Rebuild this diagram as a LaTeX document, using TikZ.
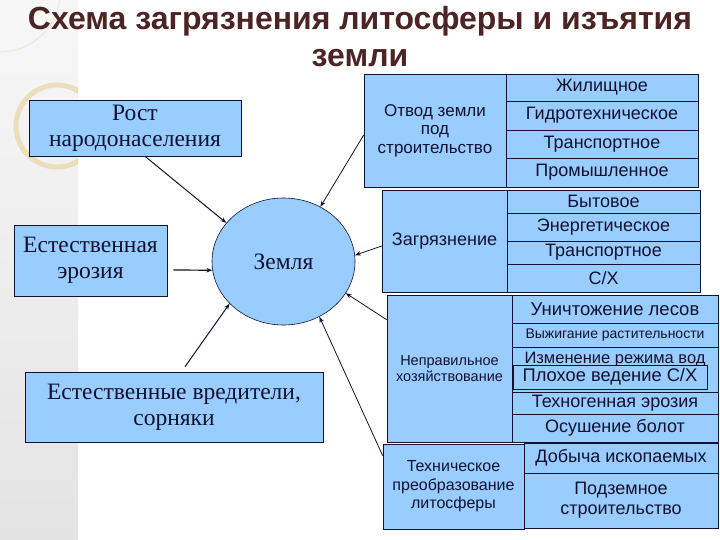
\documentclass[tikz,border=0pt]{standalone}
\usepackage{fontspec}
\setmainfont{Liberation Serif}
\newfontfamily\sansru{Liberation Sans}
\usetikzlibrary{shapes.geometric, arrows.meta}
\definecolor{boxblue}{RGB}{153,204,255}
\definecolor{titlebrown}{RGB}{77,36,36}
\definecolor{inkblue}{RGB}{18,18,48}
\definecolor{ringbeige}{RGB}{236,222,186}

\begin{document}
\begin{tikzpicture}[x=1pt, y=-1pt,
    box/.style={draw=inkblue, fill=boxblue, line width=0.6pt, inner sep=0pt, align=center, text=inkblue},
    serifbox/.style={box, font=\fontsize{23.5}{26}\selectfont},
    sansbox/.style={box, font=\sansru\fontsize{#1}{#1}\selectfont},
    arr/.style={-{Stealth[length=6pt,width=4.5pt]}, line width=0.8pt, inkblue}]

    \useasboundingbox (0,0) rectangle (720,540);

    % Background stripe and rings
    \fill[white] (0,0) rectangle (720,540);
    \shade[top color=white!97!black, bottom color=white!89!black] (0,0) rectangle (78,540);
    \begin{scope}
        \clip (0,0) rectangle (78,540);
        \draw[ringbeige, line width=5pt] (57,126) circle (41pt);
        \draw[ringbeige!80, line width=0.7pt] (0,-8) circle (60pt);
    \end{scope}

    % Title
    \node[font=\sansru\bfseries\fontsize{32}{37}\selectfont, text=titlebrown, align=center] (title) at (360,37)
        {Схема загрязнения литосферы и изъятия\\земли};

    % Left side
    \node[serifbox, minimum width=212pt, minimum height=56pt] (rost) at (135,128) {Рост\\народонаселения};
    \node[serifbox, minimum width=153pt, minimum height=71pt] (eroz) at (90.5,260.5) {Естественная\\эрозия};
    \node[serifbox, ellipse, minimum width=143pt, minimum height=127pt] (zemlya) at (283.5,261.5) {Земля};
    \node[serifbox, minimum width=298pt, minimum height=70pt] (vred) at (174,407) {Естественные вредители,\\сорняки};

    % Land allotment
    \node[sansbox={17}, minimum width=142pt, minimum height=113pt, font=\sansru\fontsize{17}{18.5}\selectfont] (otvod) at (435,130.5)
        {Отвод земли\\под\\строительство};
    \foreach \txt/\yc/\h [count=\i] in {Жилищное/87.5/27, Гидротехническое/115.5/29, Транспортное/144/28, Промышленное/172.5/29}
        \node[sansbox={18}, minimum width=192pt, minimum height=\h pt] (stroi-\i) at (602,\yc) {\txt};

    % Pollution
    \node[sansbox={18}, minimum width=125pt, minimum height=102pt] (zagr) at (444.5,241) {Загрязнение};
    \foreach \txt/\yc/\h [count=\i] in {Бытовое/201.5/23, Энергетическое/227/28, Транспортное/252.5/23, {С/Х}/278/28}
        \node[sansbox={18}, minimum width=193pt, minimum height=\h pt] (zagr-\i) at (603.5,\yc) {\txt};

    % Wrong management
    \node[sansbox={14.5}, minimum width=125pt, minimum height=147pt, font=\sansru\fontsize{14.5}{16}\selectfont] (neprav) at (449.5,368.5)
        {Неправильное\\хозяйствование};
    \foreach \txt/\yc/\h/\fs [count=\i] in {Уничтожение лесов/309/28/18.5, Выжигание растительности/335/24/14,
                                             Техногенная эрозия/403/22/18, Осушение болот/428/28/18}
        \node[sansbox=\fs, minimum width=206pt, minimum height=\h pt] (hoz-\i) at (615,\yc) {\txt};
    \node[sansbox={16.5}, minimum width=206pt, minimum height=45pt, text height=12pt, text depth=25pt] (izm) at (615,369.5)
        {Изменение режима вод};
    \node[sansbox={18.3}, minimum width=194pt, minimum height=24pt] (sh) at (610,377) {Плохое ведение С/Х};

    % Technical transformation
    \node[sansbox={16}, minimum width=141pt, minimum height=85pt, font=\sansru\fontsize{16}{18.5}\selectfont] (tech) at (453.5,486.5)
        {Техническое\\преобразование\\литосферы};
    \node[sansbox={18}, minimum width=194pt, minimum height=30pt] (dobycha) at (621,458) {Добыча ископаемых};
    \node[sansbox={18}, minimum width=194pt, minimum height=55pt, font=\sansru\fontsize{18}{20}\selectfont] (podzem) at (621,500.5)
        {Подземное\\строительство};

    % Arrows into the Earth
    \draw[arr, line width=1pt] ([xshift=10pt]rost.south) -- (zemlya.146);
    \draw[arr, line width=1.2pt] ([xshift=6pt,yshift=-9.5pt]eroz.east) -- (zemlya.187);
    \draw[arr, line width=1pt] ([xshift=11pt,yshift=5pt]vred.north) -- (zemlya.218);
    \draw[arr] ([yshift=-4.5pt]otvod.west) -- (zemlya.56);
    \draw[arr] ([yshift=-5pt]zagr.west) -- (zemlya.5);
    \draw[arr] ([yshift=-25pt]neprav.north west) -- (zemlya.-27);
    \draw[arr] ([yshift=-12pt]tech.north west) -- (zemlya.-57);
\end{tikzpicture}
\end{document}
